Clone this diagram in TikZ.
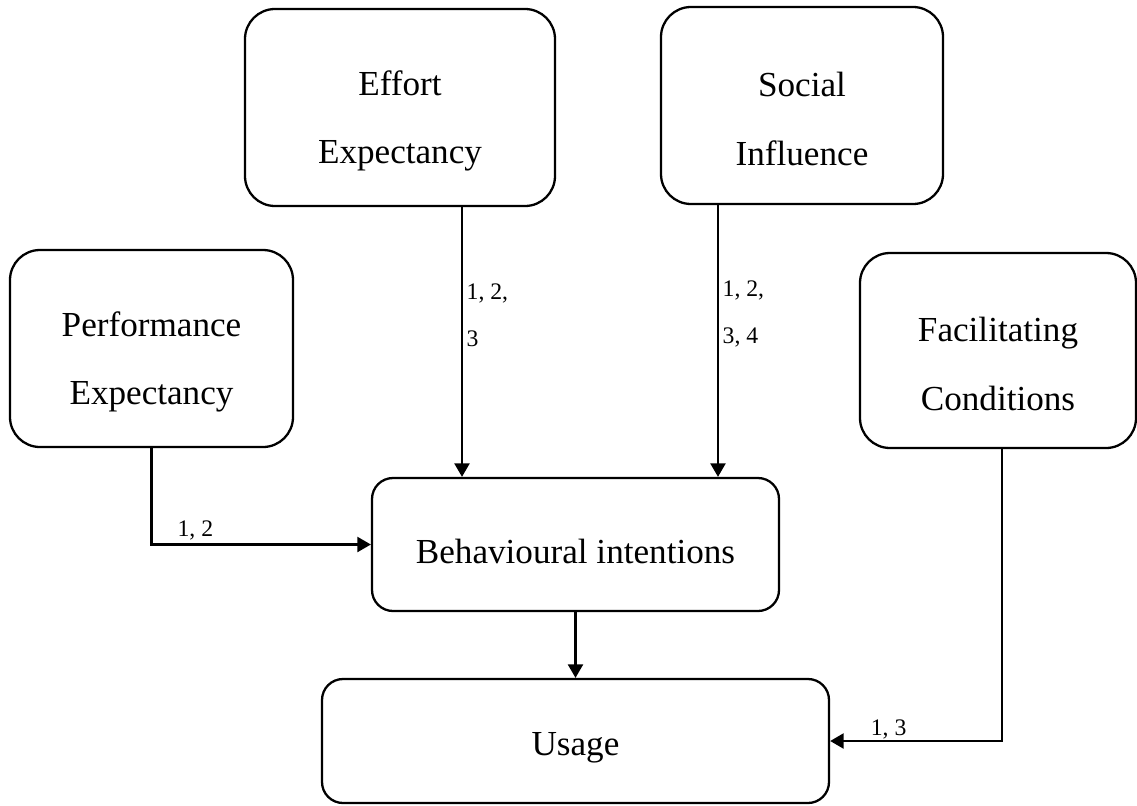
\documentclass[tikz,border=0pt]{standalone}
\usepackage{fontspec}
\setmainfont{Liberation Serif}
\usepackage{tikz}
\usetikzlibrary{shapes,arrows.meta,positioning,calc}

\begin{document}
\begin{tikzpicture}[
    factor/.style={rectangle, draw=black, line width=1.3pt, rounded corners=0.6cm},
    result/.style={rectangle, draw=black, line width=1.3pt, rounded corners=0.42cm},
    boxtext/.style={align=center, font=\fontsize{20}{39}\selectfont, yshift=-0.27cm},
    resulttext/.style={font=\fontsize{20}{39}\selectfont, yshift=-0.14cm},
    arrow/.style={-{Triangle[length=0.27cm, width=0.3cm]}, line width=1.3pt, draw=black},
    weight/.style={font=\fontsize{13.5}{27}\selectfont, align=left, inner sep=2pt}
]
    \useasboundingbox (0,0) rectangle (22.74,-16.1);

    \node [factor, minimum width=6.2cm, minimum height=3.94cm, label={[boxtext]center:{Effort\\Expectancy}}] (effort) at (8.0,-2.15) {};
    \node [factor, minimum width=5.64cm, minimum height=3.94cm, label={[boxtext]center:{Social\\Influence}}] (social) at (16.04,-2.11) {};
    \node [factor, minimum width=5.66cm, minimum height=3.94cm, label={[boxtext]center:{Performance\\Expectancy}}] (perf) at (3.03,-6.97) {};
    \node [factor, minimum width=5.52cm, minimum height=3.9cm, label={[boxtext]center:{Facilitating\\Conditions}}] (facil) at (19.96,-7.01) {};
    \node [result, minimum width=8.14cm, minimum height=2.66cm, label={[resulttext]center:Behavioural intentions}] (intent) at (11.51,-10.89) {};
    \node [result, minimum width=10.14cm, minimum height=2.48cm, label={[resulttext]center:Usage}] (usage) at (11.51,-14.82) {};

    \draw [arrow] ([xshift=1.24cm]effort.south) -- ([xshift=1.24cm]effort.south |- intent.north)
        node [weight, right, pos=0.4] {1, 2,\\3};
    \draw [arrow] ([xshift=-1.68cm]social.south) -- ([xshift=-1.68cm]social.south |- intent.north)
        node [weight, right, pos=0.4] {1, 2,\\3, 4};
    \draw [arrow] (perf.south) |- (intent.west)
        node [weight, above, pos=0.6] {1, 2};
    \draw [arrow] (intent.south) -- (usage.north);
    \draw [arrow] ([xshift=0.08cm]facil.south) |- (usage.east)
        node [weight, above, pos=0.83, inner sep=0.5pt] {1, 3};
\end{tikzpicture}
\end{document}
